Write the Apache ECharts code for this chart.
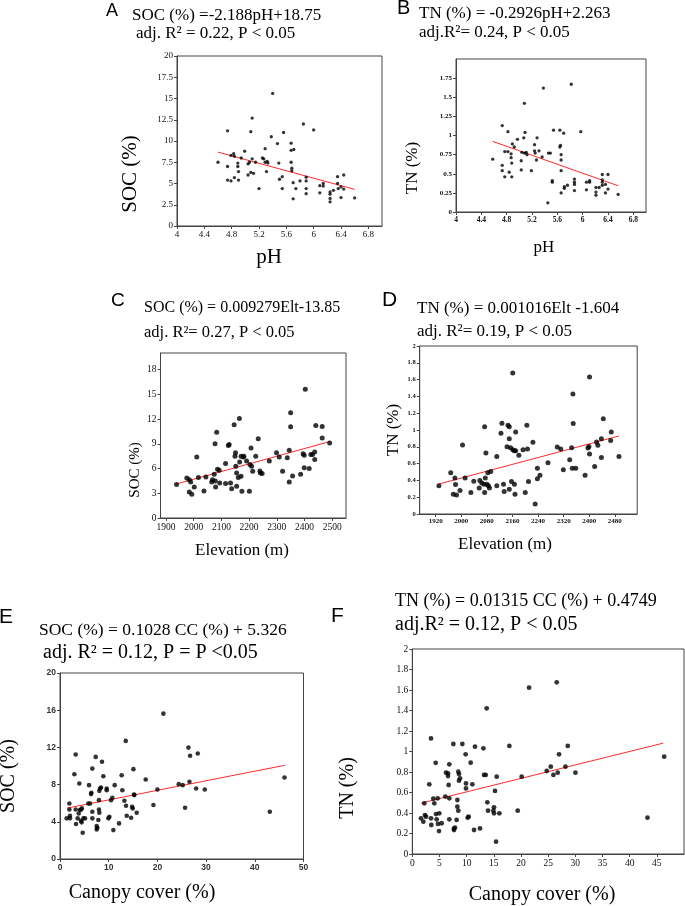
<!DOCTYPE html>
<html><head><meta charset="utf-8">
<script src="https://cdn.jsdelivr.net/npm/echarts@6/dist/echarts.min.js"></script>
<style>html,body{margin:0;padding:0;background:#fff}#c{width:685px;height:906px}</style>
</head><body><div id="c"></div>
<script>
// Panel A: SOC vs pH
const socPH = [[4.6,7.5],[4.74,11.2],[4.74,7.0],[4.74,5.4],[4.79,5.3],[4.79,8.3],[4.83,8.5],[4.84,8.2],[4.84,5.7],[4.89,7.4],[4.89,7.0],[4.9,6.4],[4.9,5.4],[4.94,8.0],[4.99,8.8],[5.04,7.3],[5.04,6.0],[5.06,7.5],[5.08,11.1],[5.1,12.7],[5.1,7.9],[5.08,6.3],[5.12,6.2],[5.15,7.5],[5.2,4.4],[5.25,8.0],[5.27,7.9],[5.29,9.1],[5.29,7.5],[5.31,6.4],[5.32,7.6],[5.33,7.4],[5.38,10.5],[5.4,15.6],[5.47,9.7],[5.49,7.4],[5.5,5.5],[5.54,5.8],[5.54,4.4],[5.56,11.0],[5.67,9.75],[5.67,8.9],[5.71,9.0],[5.67,7.5],[5.68,6.8],[5.68,6.5],[5.7,5.1],[5.7,3.2],[5.74,4.4],[5.8,5.3],[5.85,12.0],[5.89,5.75],[5.89,5.3],[5.89,4.4],[5.89,3.8],[6.0,11.3],[6.09,4.75],[6.09,3.9],[6.14,5.0],[6.14,4.7],[6.24,4.0],[6.24,3.75],[6.24,3.25],[6.24,2.85],[6.29,4.2],[6.35,5.8],[6.35,5.0],[6.36,4.4],[6.4,4.6],[6.4,3.35],[6.44,6.0],[6.44,4.35],[6.6,3.3]];
const fitA = [[4.6,8.69],[6.6,4.31]];
// Panel B: TN vs pH
const tnPH = [[4.58,0.69],[4.73,1.13],[4.73,0.61],[4.73,0.54],[4.77,0.79],[4.77,0.46],[4.82,0.79],[4.82,1.05],[4.84,0.52],[4.87,0.76],[4.87,0.71],[4.88,0.64],[4.88,0.46],[4.89,0.89],[4.92,0.85],[4.97,0.95],[5.03,0.67],[5.03,0.55],[5.04,0.78],[5.07,0.97],[5.08,1.42],[5.09,1.04],[5.08,0.77],[5.11,0.78],[5.12,0.75],[5.19,0.54],[5.24,0.88],[5.24,0.80],[5.25,0.77],[5.28,0.97],[5.27,0.68],[5.31,0.80],[5.36,0.72],[5.38,1.62],[5.46,0.77],[5.49,0.77],[5.45,0.12],[5.52,0.41],[5.52,0.39],[5.54,1.07],[5.64,1.07],[5.64,0.85],[5.65,0.87],[5.66,0.75],[5.66,0.68],[5.66,0.54],[5.66,0.25],[5.7,1.03],[5.71,0.31],[5.71,0.33],[5.76,0.35],[5.82,1.67],[5.87,0.43],[5.87,0.39],[5.87,0.36],[5.87,0.28],[5.97,1.05],[6.06,0.39],[6.06,0.29],[6.11,0.41],[6.11,0.39],[6.21,0.32],[6.21,0.26],[6.21,0.22],[6.26,0.32],[6.31,0.49],[6.31,0.42],[6.31,0.39],[6.31,0.35],[6.36,0.36],[6.36,0.25],[6.4,0.49],[6.4,0.30],[6.56,0.23]];
const fitB = [[4.58,0.923],[6.56,0.343]];
// Panel C: SOC vs elevation
const socElt = [[1938,4.05],[1975,4.85],[1984,4.65],[1984,3.16],[1989,4.37],[1993,2.87],[2002,3.76],[2011,7.4],[2017,4.9],[2037,3.28],[2044,4.98],[2065,4.37],[2068,4.65],[2074,5.3],[2077,9.0],[2078,4.5],[2079,3.76],[2083,10.4],[2086,5.9],[2092,5.8],[2094,4.25],[2115,6.6],[2115,4.17],[2125,8.8],[2128,8.9],[2133,4.25],[2137,3.56],[2146,11.3],[2149,7.5],[2151,7.9],[2152,6.27],[2155,5.46],[2155,3.84],[2161,4.9],[2165,12.05],[2166,6.8],[2171,5.06],[2171,7.5],[2174,3.24],[2179,7.4],[2181,7.5],[2191,6.9],[2203,6.5],[2201,3.24],[2207,8.5],[2209,6.27],[2213,5.66],[2224,7.5],[2233,9.6],[2239,5.7],[2241,5.46],[2247,5.38],[2273,6.9],[2299,7.9],[2309,7.4],[2321,5.66],[2338,7.3],[2345,8.2],[2345,4.37],[2350,12.75],[2350,11.05],[2357,5.1],[2386,5.3],[2395,7.8],[2399,7.6],[2399,6.1],[2403,15.6],[2417,6.0],[2423,7.7],[2429,7.7],[2437,8.0],[2437,7.1],[2441,11.2],[2464,11.1],[2464,9.7],[2491,9.1]];
const fitC = [[1938,4.13],[2491,9.26]];
// Panel D: TN vs elevation
const tnElt = [[1930,0.335],[1967,0.49],[1975,0.235],[1980,0.43],[1982,0.35],[1985,0.227],[1996,0.28],[2004,0.82],[2012,0.43],[2030,0.255],[2039,0.39],[2056,0.31],[2058,0.40],[2064,0.37],[2071,0.355],[2073,1.04],[2073,0.255],[2075,0.43],[2077,0.725],[2080,0.355],[2083,0.49],[2085,0.335],[2088,0.31],[2092,0.506],[2111,0.685],[2111,0.335],[2124,0.96],[2127,1.08],[2132,0.355],[2134,0.267],[2143,0.80],[2146,1.056],[2150,1.04],[2150,0.896],[2150,0.295],[2154,0.79],[2157,0.386],[2161,1.68],[2161,0.765],[2166,0.753],[2166,0.355],[2168,0.235],[2170,0.976],[2170,0.753],[2180,0.70],[2193,0.765],[2200,0.255],[2205,1.056],[2207,0.773],[2210,0.386],[2224,0.853],[2231,0.12],[2238,0.546],[2238,0.42],[2246,0.46],[2271,0.61],[2300,0.797],[2311,0.773],[2319,0.526],[2339,0.645],[2345,0.79],[2347,0.546],[2349,1.43],[2350,1.076],[2358,0.546],[2387,0.46],[2396,0.785],[2399,0.805],[2401,1.63],[2401,0.713],[2417,0.566],[2423,0.857],[2427,0.817],[2438,0.896],[2438,0.673],[2444,1.135],[2467,0.876],[2469,0.976],[2493,0.685]];
const fitD = [[1930,0.357],[2493,0.929]];
// Panel E: SOC vs canopy cover
const socCC = [[1.37,4.37],[1.92,5.97],[1.92,5.33],[2.05,4.65],[2.05,4.37],[2.95,9.12],[3.22,11.23],[3.22,5.33],[3.29,3.76],[3.63,4.37],[3.97,8.12],[3.84,4.9],[4.1,5.26],[4.3,5.33],[4.3,4.11],[4.5,5.44],[4.45,3.94],[4.66,2.83],[4.79,4.37],[5.14,4.37],[5.82,5.97],[5.96,7.94],[6.16,5.97],[6.37,6.98],[6.44,7.12],[6.64,9.72],[6.64,5.08],[6.64,4.37],[7.33,10.98],[7.53,3.54],[7.53,3.18],[7.67,3.36],[7.88,4.19],[8.0,6.33],[8.0,5.33],[8.08,4.97],[8.08,7.33],[8.22,7.58],[8.42,7.69],[8.63,10.45],[8.9,8.9],[9.59,7.58],[9.59,7.4],[9.93,4.37],[10.14,4.54],[10.48,6.33],[10.75,6.58],[10.96,3.11],[11.23,7.94],[12.12,3.83],[12.67,9.0],[12.8,7.4],[13.22,6.26],[13.5,12.7],[13.56,5.72],[13.7,4.65],[14.6,4.44],[14.8,5.6],[14.93,5.44],[15.07,9.66],[15.2,6.94],[15.27,6.87],[15.75,4.97],[17.6,8.55],[19.18,5.8],[20.0,7.48],[21.23,15.63],[24.38,8.05],[25.2,7.94],[25.68,5.51],[26.37,11.98],[26.58,8.3],[26.71,11.1],[27.95,7.58],[28.29,11.34],[29.73,7.48],[43.08,5.08],[46.1,8.77]];
const fitE = [[1.5,5.48],[46.2,10.08]];
// Panel F: TN vs canopy cover
const tnCC = [[1.6,0.348],[2.03,0.315],[2.21,0.494],[2.33,0.38],[2.52,0.364],[3.13,0.68],[3.44,0.348],[3.5,0.283],[3.44,1.128],[3.87,0.54],[4.05,0.494],[4.3,0.89],[4.36,0.39],[4.48,0.338],[4.67,0.543],[4.73,0.293],[4.91,0.224],[4.97,0.397],[5.4,0.3],[6.08,0.56],[6.2,0.793],[6.57,0.787],[6.57,0.76],[6.69,0.673],[6.81,0.875],[6.81,0.543],[6.81,0.338],[7.55,1.073],[7.67,0.25],[7.67,0.234],[7.86,0.257],[8.16,0.332],[8.29,0.527],[8.29,0.462],[8.47,0.803],[8.47,0.423],[8.59,0.78],[8.59,0.715],[8.78,0.738],[9.21,1.073],[9.82,0.972],[9.88,0.689],[9.88,0.64],[10.19,0.354],[10.37,0.364],[10.74,0.891],[11.05,0.68],[11.36,0.234],[11.54,1.047],[12.46,0.25],[13.08,1.031],[13.2,0.771],[13.51,0.771],[13.69,1.421],[13.81,0.504],[13.94,0.423],[14.92,0.423],[15.04,0.455],[15.04,0.397],[15.22,0.615],[15.41,0.12],[15.53,0.754],[16.02,0.397],[17.86,1.054],[19.4,0.423],[20.13,0.754],[21.49,1.623],[24.74,0.81],[25.48,0.852],[25.97,0.771],[26.58,1.675],[26.76,0.793],[27.01,0.972],[28.18,0.852],[28.61,1.054],[30.02,0.793],[43.28,0.354],[46.35,0.95]];
const fitF = [[1.7,0.497],[46.2,1.082]];

// Tick labels
const phTicks = [4,4.4,4.8,5.2,5.6,6,6.4,6.8];
const eltTicksC = [1900,2000,2100,2200,2300,2400,2500];
const eltTicksD = [1920,2000,2080,2160,2240,2320,2400,2480];
const socTicksC = [0,3,6,9,12,15,18];
const ccTicksF = [0,5,10,15,20,25,30,35,40,45];

const SERIF = "'Liberation Serif','Times New Roman',serif";
const SANS = "'Liberation Sans',Arial,sans-serif";
const AX = '#444';
const plain = v => String(v);

const grids = [
  {left:177, top:56, width:205, height:170},
  {left:456, top:59, width:190, height:153},
  {left:160.5, top:353, width:185.5, height:165},
  {left:419.7, top:346, width:217.5, height:168},
  {left:60, top:673, width:243.5, height:186},
  {left:412.3, top:649, width:271.7, height:205}
];

function ax(i, o, lab) {
  return Object.assign({
    gridIndex:i, type:'value', splitLine:{show:false},
    axisLine:{lineStyle:{color:AX, width:1}},
    axisTick:{show:true, length:3, lineStyle:{color:AX}},
    axisLabel:Object.assign({color:'#111', margin:4, fontFamily:SERIF, formatter:plain}, lab)
  }, o);
}
function tk(vals) { return {show:true, length:3, lineStyle:{color:AX}, customValues:vals}; }

const xAxis = [
  ax(0, {min:4, max:7, axisTick:tk(phTicks)}, {fontSize:9, customValues:phTicks}),
  ax(1, {min:4, max:7, axisTick:tk(phTicks)}, {fontSize:7.5, fontWeight:'bold', customValues:phTicks}),
  ax(2, {min:1880, max:2550, axisTick:tk(eltTicksC)}, {fontSize:9.5, customValues:eltTicksC}),
  ax(3, {min:1870, max:2550, axisTick:tk(eltTicksD)}, {fontSize:7, fontWeight:'bold', customValues:eltTicksD}),
  ax(4, {min:0, max:50, interval:10}, {fontSize:8.5, fontWeight:'bold', fontFamily:SANS, color:'#333'}),
  ax(5, {min:0, max:50, axisTick:tk(ccTicksF)}, {fontSize:9.5, customValues:ccTicksF})
];
const yAxis = [
  ax(0, {min:0, max:20, interval:2.5}, {fontSize:9}),
  ax(1, {min:0, max:2, interval:0.25}, {fontSize:7, fontWeight:'bold', showMaxLabel:false}),
  ax(2, {min:0, max:20, axisTick:tk(socTicksC)}, {fontSize:9.5, customValues:socTicksC}),
  ax(3, {min:0, max:2, interval:0.2}, {fontSize:6.5, fontWeight:'bold'}),
  ax(4, {min:0, max:20, interval:4}, {fontSize:8.5, fontWeight:'bold', fontFamily:SANS, color:'#333'}),
  ax(5, {min:0, max:2, interval:0.2}, {fontSize:9.5})
];

const pts = [socPH, tnPH, socElt, tnElt, socCC, tnCC];
const fits = [fitA, fitB, fitC, fitD, fitE, fitF];
const sizes = [3.3, 3.3, 5, 5, 4.6, 4.8];
const series = [];
pts.forEach((d,i) => {
  series.push({type:'line', xAxisIndex:i, yAxisIndex:i, data:fits[i], symbol:'none', silent:true,
    lineStyle:{color:'#ff2a2a', width:1}, z:2, animation:false});
  series.push({type:'scatter', xAxisIndex:i, yAxisIndex:i, data:d, symbol:'circle', symbolSize:sizes[i],
    itemStyle:{color:'#000'}, z:3, animation:false});
});

function T(text, x, y, size, fam) {
  return {type:'text', x:x, y:y, silent:true,
    style:{text:text, fill:'#000', font:size+'px '+fam, textAlign:'left', textVerticalAlign:'middle'}};
}
function R(text, x, y, size, fam) {
  return {type:'text', x:x, y:y, rotation:Math.PI/2, silent:true,
    style:{text:text, fill:'#000', font:size+'px '+fam, textAlign:'center', textVerticalAlign:'middle'}};
}
function C(text, x, y, size, fam) {
  return {type:'text', x:x, y:y, silent:true,
    style:{text:text, fill:'#000', font:size+'px '+fam, textAlign:'center', textVerticalAlign:'middle'}};
}

const graphic = [
  // Panel letters
  T('A', 106, 11, 18, SANS), T('B', 397, 8, 20, SANS), T('C', 111, 301, 19, SANS),
  T('D', 382, 300, 21, SANS), T('E', -1, 617, 21, SANS), T('F', 331, 616, 21, SANS),
  // Titles
  T('SOC (%) =-2.188pH+18.75', 132, 16, 17, SERIF), T('adj. R² = 0.22, P < 0.05', 136, 34, 17, SERIF),
  T('TN (%) = -0.2926pH+2.263', 419, 14, 17, SERIF), T('adj.R²= 0.24, P < 0.05', 419, 33, 17, SERIF),
  T('SOC (%) = 0.009279Elt-13.85', 144, 308, 16, SERIF), T('adj. R²= 0.27, P < 0.05', 144, 333, 16.5, SERIF),
  T('TN (%) = 0.001016Elt -1.604', 417, 309, 17, SERIF), T('adj. R²= 0.19, P < 0.05', 417, 332, 17, SERIF),
  T('SOC (%) = 0.1028 CC (%) + 5.326', 39, 630, 17.5, SERIF), T('adj. R² = 0.12, P = P <0.05', 43, 653, 20, SERIF),
  T('TN (%) = 0.01315 CC (%) + 0.4749', 395, 601, 18, SERIF), T('adj.R² = 0.12, P < 0.05', 395, 625, 20, SERIF),
  // Axis names
  C('pH', 269, 257, 21, SERIF), R('SOC (%)', 130, 174, 21, SERIF),
  C('pH', 544, 248, 17, SERIF), R('TN (%)', 413, 168, 17, SERIF),
  C('Elevation (m)', 242, 551, 17, SERIF), R('SOC (%)', 135, 470, 15, SERIF),
  C('Elevation (m)', 505, 545, 17, SERIF), R('TN (%)', 394, 430, 17, SERIF),
  C('Canopy cover (%)', 142, 893, 20, SERIF), R('SOC (%)', 9, 776, 20, SERIF),
  C('Canopy cover (%)', 542, 895, 20, SERIF), R('TN (%)', 348, 788, 20, SERIF)
];

const chart = echarts.init(document.getElementById('c'), null, {renderer:'canvas'});
chart.setOption({
  animation:false,
  grid: grids.map(g => Object.assign({show:true, borderColor:AX, borderWidth:1, containLabel:false}, g)),
  xAxis, yAxis, series, graphic
});
</script>
</body></html>
